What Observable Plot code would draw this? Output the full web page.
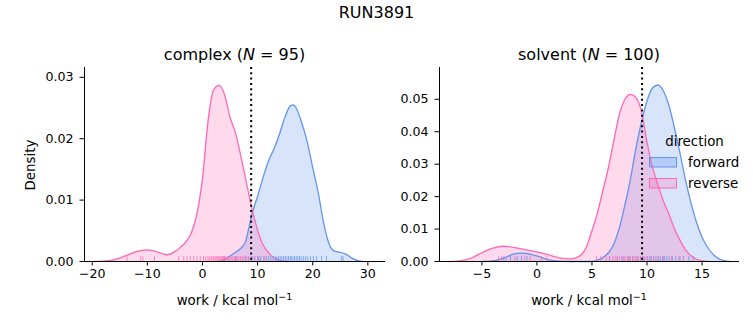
<!DOCTYPE html>
<html><head><meta charset="utf-8">
<script src="https://cdn.jsdelivr.net/npm/d3@7"></script>
<script src="https://cdn.jsdelivr.net/npm/@observablehq/plot@0.6"></script>
<style>
body{margin:0;background:#fff;}
#wrap{position:relative;width:753px;height:325px;overflow:hidden;font-family:"DejaVu Sans",sans-serif;}
#wrap > svg{position:absolute;top:0;}
#wrap svg.pnl text{font-size:12.6px;font-family:"DejaVu Sans";fill:#000;font-variant:normal;}
</style></head><body><div id="wrap"></div>
<script>
const figTitle = "RUN3891";
const directions = ["forward", "reverse"];
const colors = ["#6495ED", "#FF69B4"];

// complex panel: KDE curves (work, density)
const complexFwdX = [3, 4, 5, 6, 7, 7.8, 8.5, 9, 10, 11, 12, 13, 14, 15, 16, 16.5, 17, 18, 19, 20, 21, 22, 22.8, 23.5, 24.3, 25, 26, 27, 28, 29];
const complexFwdY = [0, 0.0003, 0.0009, 0.0015, 0.0022, 0.0032, 0.0058, 0.0078, 0.0106, 0.0137, 0.0164, 0.0184, 0.0208, 0.0236, 0.0254, 0.0255, 0.0250, 0.0226, 0.0195, 0.0153, 0.0112, 0.0062, 0.0033, 0.0020, 0.0016, 0.0015, 0.0012, 0.0006, 0.0002, 0];
const complexRevX = [-20, -18, -16, -14, -12, -10, -8, -6.5, -5, -4, -3, -2, -1, 0, 1, 2, 3, 4, 5, 6, 7, 8, 9, 10, 11, 12, 13, 14, 15.5];
const complexRevY = [0, 0.00005, 0.0003, 0.0009, 0.0016, 0.0019, 0.0015, 0.0011, 0.0016, 0.0023, 0.0032, 0.0047, 0.0078, 0.0135, 0.0228, 0.0279, 0.0287, 0.0272, 0.0235, 0.0209, 0.0170, 0.0127, 0.0085, 0.0051, 0.0027, 0.0014, 0.0006, 0.0002, 0];
// complex panel: rug (individual work values)
const complexFwdRug = [3.9, 6.1, 7.8, 8.4, 9.0, 9.5, 10.0, 10.3, 10.6, 11.1, 11.6, 12.0, 12.4, 12.8, 13.2, 13.5, 13.8, 14.1, 14.4, 14.7, 15.0, 15.3, 15.6, 15.9, 16.1, 16.4, 16.7, 17.0, 17.3, 17.6, 17.9, 18.3, 18.7, 19.1, 19.6, 20.1, 20.7, 21.6, 22.5, 25.2, 25.5];
const complexRevRug = [-13.7, -11.2, -10.8, -8.7, -4.3, -3.4, -2.8, -2.2, -1.6, -1.0, -0.4, 0.2, 0.6, 1.0, 1.3, 1.6, 1.9, 2.1, 2.4, 2.6, 2.8, 3.0, 3.2, 3.4, 3.6, 3.8, 4.0, 4.2, 4.5, 4.7, 5.0, 5.2, 5.5, 5.8, 6.0, 6.3, 6.6, 6.9, 7.2, 7.5, 7.9, 8.3, 8.8, 9.4, 10.1, 11.3];
const complexRef = 8.83;

// solvent panel
const solventFwdX = [-5, -4, -3, -2, -1.5, -1, 0, 1, 2, 3, 5, 5.5, 6, 6.5, 7, 7.5, 8, 8.5, 9, 9.5, 10, 10.5, 11, 11.5, 12, 12.5, 13, 13.5, 14, 14.5, 15, 15.5, 16, 16.5, 17, 17.5];
const solventFwdY = [0, 0.0002, 0.0011, 0.0024, 0.0026, 0.0025, 0.0017, 0.0006, 0.0001, 0, 0, 0.0004, 0.0012, 0.0027, 0.0055, 0.0105, 0.0175, 0.0255, 0.0350, 0.0430, 0.0495, 0.0535, 0.0544, 0.0525, 0.0480, 0.0410, 0.0333, 0.0250, 0.0180, 0.0120, 0.0075, 0.0044, 0.0022, 0.0009, 0.0003, 0];
const solventRevX = [-8, -7, -6, -5, -4, -3, -2, -1, 0, 1, 2, 3, 3.5, 4, 4.5, 5, 5.5, 6, 6.5, 7, 7.5, 8, 8.5, 9, 9.5, 10, 10.5, 11, 11.5, 12, 12.5, 13, 13.5, 14, 14.5, 15.5];
const solventRevY = [0, 0.0002, 0.0010, 0.0027, 0.0041, 0.0047, 0.0043, 0.0036, 0.0030, 0.0021, 0.0011, 0.0008, 0.0011, 0.0020, 0.0045, 0.0095, 0.0150, 0.0220, 0.0290, 0.0375, 0.0455, 0.0500, 0.0515, 0.0505, 0.0462, 0.0368, 0.0290, 0.0235, 0.0185, 0.0145, 0.0100, 0.0065, 0.0036, 0.0018, 0.0007, 0];
const solventFwdRug = [-3.0, -2.4, -1.8, -1.4, -0.9, 6.6, 7.3, 7.8, 8.3, 8.7, 9.1, 9.4, 9.7, 10.0, 10.2, 10.4, 10.6, 10.8, 11.0, 11.2, 11.4, 11.6, 11.8, 12.0, 12.3, 12.6, 12.9, 13.3, 13.8, 14.2];
const solventRevRug = [-3.5, -3.2, -2.8, -2.0, -1.1, -0.6, 0.4, 0.9, 5.4, 5.8, 6.3, 6.6, 6.9, 7.1, 7.3, 7.5, 7.7, 7.9, 8.0, 8.2, 8.4, 8.5, 8.7, 8.9, 9.0, 9.2, 9.4, 9.6, 9.8, 10.0, 10.3, 10.6, 11.0, 11.5, 12.2, 13.0];
const solventRef = 9.55;

const series = (xs, ys, dir) => xs.map((x, i) => ({x, y: ys[i], direction: dir}));
const rug = (xs, dir) => xs.map(x => ({x, direction: dir}));

function panel(o) {
  const curves = [...series(o.fx, o.fy, "forward"), ...series(o.rx, o.ry, "reverse")];
  const rugs = [...rug(o.frug, "forward"), ...rug(o.rrug, "reverse")];
  const p = Plot.plot({
    width: o.width, height: 325,
    marginLeft: o.marginLeft, marginRight: o.marginRight, marginTop: 67, marginBottom: 64,
    style: {fontFamily: "DejaVu Sans", fontSize: "12.6px", color: "black", background: "transparent", overflow: "visible"},
    x: {domain: o.xDomain, ticks: o.xTicks, tickSize: 4.5, tickPadding: 3.5, label: null},
    y: {domain: o.yDomain, ticks: o.yTicks, tickSize: 4.5, tickPadding: 6.5, tickFormat: ".2f", label: null},
    color: {domain: directions, range: colors},
    marks: [
      Plot.areaY(curves, {x: "x", y1: 0, y2: "y", z: "direction", fill: "direction", fillOpacity: 0.25, curve: "monotone-x"}),
      Plot.lineY(curves, {x: "x", y: "y", z: "direction", stroke: "direction", strokeWidth: 1.3, curve: "monotone-x"}),
      Plot.ruleX(rugs, {x: "x", y1: 0, y2: o.yDomain[1] * 0.025, stroke: "direction", strokeOpacity: 0.75, strokeWidth: 1}),
      Plot.ruleX([o.ref], {stroke: "black", strokeWidth: 2, strokeDasharray: "2,3.3"}),
      Plot.ruleX([o.xDomain[0]], {stroke: "black", strokeWidth: 1}),
      Plot.ruleY([0], {stroke: "black", strokeWidth: 1})
    ]
  });
  p.classList.add("pnl");
  p.style.left = o.left + "px";
  return p;
}

const wrap = document.getElementById("wrap");
wrap.appendChild(panel({
  left: 0, width: 400, marginLeft: 84, marginRight: 15,
  xDomain: [-21.4, 33.2], yDomain: [0, 0.0316],
  xTicks: [-20, -10, 0, 10, 20, 30], yTicks: [0, 0.01, 0.02, 0.03],
  fx: complexFwdX, fy: complexFwdY, rx: complexRevX, ry: complexRevY,
  frug: complexFwdRug, rrug: complexRevRug, ref: complexRef
}));
wrap.appendChild(panel({
  left: 376, width: 377, marginLeft: 63, marginRight: 14,
  xDomain: [-8.85, 18.4], yDomain: [0, 0.0598],
  xTicks: [-5, 0, 5, 10, 15], yTicks: [0, 0.01, 0.02, 0.03, 0.04, 0.05],
  fx: solventFwdX, fy: solventFwdY, rx: solventRevX, ry: solventRevY,
  frug: solventFwdRug, rrug: solventRevRug, ref: solventRef
}));

const ns = "http://www.w3.org/2000/svg";
const ov = document.createElementNS(ns, "svg");
ov.setAttribute("width", 753); ov.setAttribute("height", 325);
ov.style.left = "0px"; ov.style.pointerEvents = "none";
ov.setAttribute("font-family", "DejaVu Sans");
const xlab = (cx) => `<text x="${cx}" y="305" font-size="13.4" text-anchor="middle">work / kcal mol<tspan font-size="9.5" dy="-5.5">−1</tspan></text>`;
ov.innerHTML = `
<text x="376.5" y="18" font-size="16" text-anchor="middle">${figTitle}</text>
<text x="234.5" y="59.5" font-size="16" text-anchor="middle">complex (<tspan font-style="italic">N</tspan> = 95)</text>
<text x="589" y="59.5" font-size="16" text-anchor="middle">solvent (<tspan font-style="italic">N</tspan> = 100)</text>
<text transform="translate(34.5,165) rotate(-90)" font-size="13.4" text-anchor="middle">Density</text>
${xlab(234.5)}${xlab(589)}
<text x="694.5" y="145.7" font-size="13.4" text-anchor="middle">direction</text>
<rect x="649.5" y="157.5" width="27" height="9.5" fill="${colors[0]}" fill-opacity="0.3" stroke="${colors[0]}" stroke-width="1"/>
<text x="688" y="166.7" font-size="13.4">forward</text>
<rect x="649.5" y="178.5" width="27" height="9.5" fill="${colors[1]}" fill-opacity="0.25" stroke="${colors[1]}" stroke-width="1"/>
<text x="688" y="187.7" font-size="13.4">reverse</text>
`;
wrap.appendChild(ov);
</script></body></html>
